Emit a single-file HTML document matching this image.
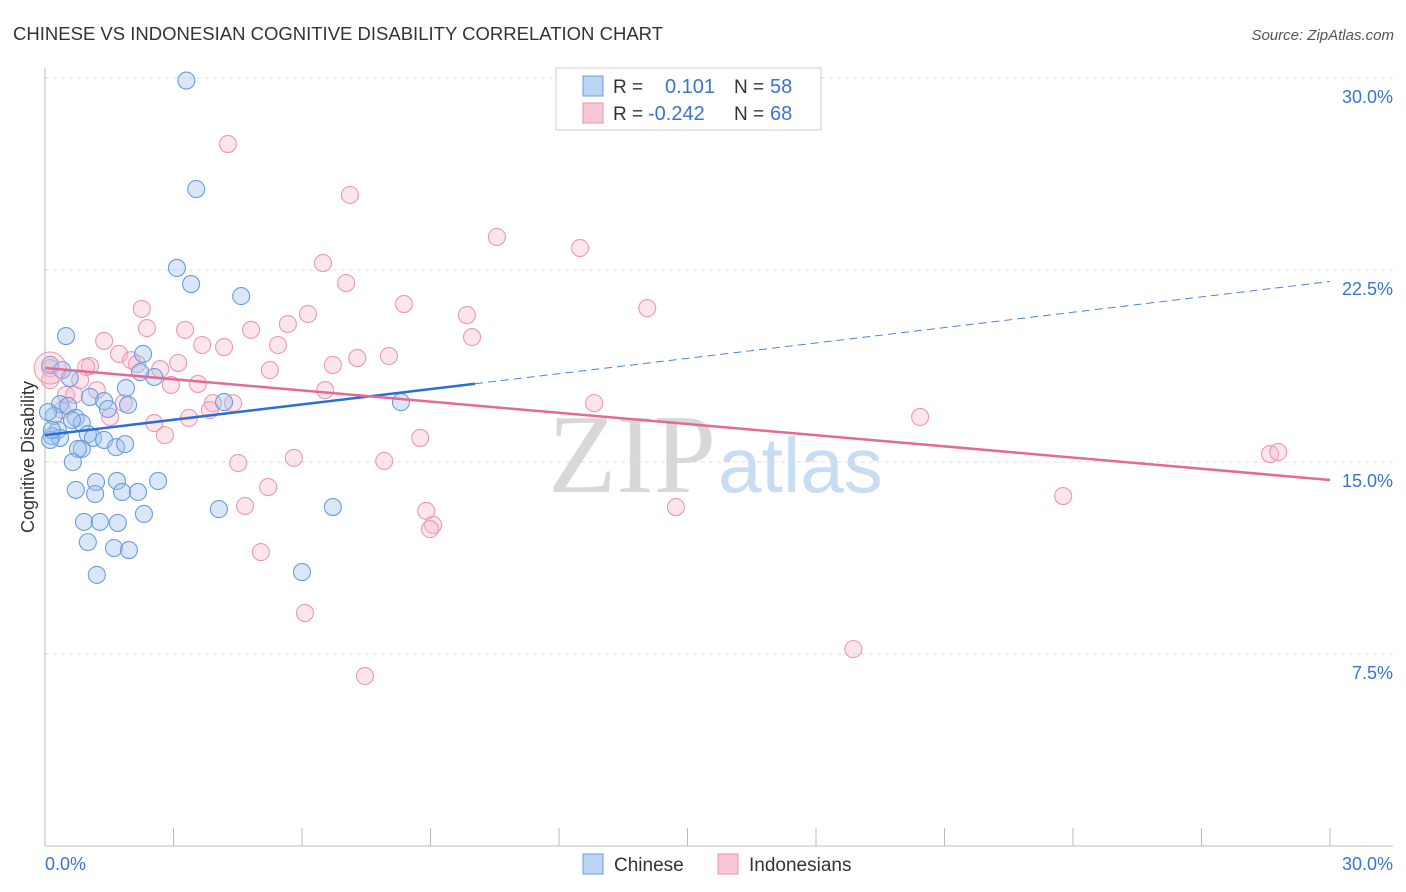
<!DOCTYPE html>
<html><head><meta charset="utf-8">
<style>
body{margin:0;background:#fff;font-family:"Liberation Sans",sans-serif;}
svg{display:block}
</style></head>
<body>
<svg id="chart" width="1406" height="892">
<text x="13" y="40" font-size="18.5" fill="#333" textLength="650">CHINESE VS INDONESIAN COGNITIVE DISABILITY CORRELATION CHART</text>
<text x="1394" y="40" font-size="15" fill="#555" font-style="italic" text-anchor="end">Source: ZipAtlas.com</text>
<text x="716" y="492" font-size="112" fill="#d8d8d8" text-anchor="end" font-family="Liberation Serif">ZIP</text>
<text x="718" y="492" font-size="78" fill="#c8dcf4">atlas</text>
<g id="grid"></g>
<g id="marks"></g>
<text transform="translate(34,457) rotate(-90)" font-size="18" fill="#333" text-anchor="middle">Cognitive Disability</text>
<text x="45" y="870" font-size="18" fill="#3a74d0">0.0%</text>
<text x="1393" y="870" font-size="18" fill="#3a74d0" text-anchor="end">30.0%</text>
<g>
<rect x="556" y="68" width="265" height="62" fill="#fff" stroke="#ccc"/>
<rect x="583" y="76" width="20" height="20" fill="#bcd4f4" stroke="#6a9ddc"/>
<rect x="583" y="103" width="20" height="20" fill="#f9c8d6" stroke="#e890ac"/>
<text x="613" y="93" font-size="19" fill="#333">R = </text><text x="665" y="93" font-size="20" fill="#3a74d0">0.101</text>
<text x="734" y="93" font-size="19" fill="#333">N = </text><text x="770" y="93" font-size="20" fill="#3a74d0">58</text>
<text x="613" y="120" font-size="19" fill="#333">R = </text><text x="648" y="120" font-size="20" fill="#3a74d0">-0.242</text>
<text x="734" y="120" font-size="19" fill="#333">N = </text><text x="770" y="120" font-size="20" fill="#3a74d0">68</text>
</g>
<g>
<rect x="583" y="854" width="20" height="20" fill="#bcd4f4" stroke="#6a9ddc"/>
<text x="614" y="871" font-size="19" fill="#333">Chinese</text>
<rect x="718" y="854" width="20" height="20" fill="#f9c8d6" stroke="#e890ac"/>
<text x="749" y="871" font-size="19" fill="#333">Indonesians</text>
</g>
</svg>
<script>
const yTicks=[7.5,15,22.5,30];
const yTickLabels=["7.5%","15.0%","22.5%","30.0%"];
const chineseX=[3.3,3.53,3.08,3.41,4.58,0.49,2.29,0.12,0.40,0.58,2.55,2.22,1.89,1.05,1.38,1.94,0.35,0.54,1.47,4.18,8.31,0.21,0.72,0.86,0.63,0.30,1.00,1.12,0.16,0.35,1.38,1.66,1.87,0.86,0.77,0.65,1.19,1.68,2.64,0.72,1.17,1.80,2.17,2.31,4.06,6.72,0.91,1.28,1.70,1.00,1.61,1.96,6.0,1.21,0.12,0.07,0.16];
const chineseY=[29.9,25.66,22.58,21.95,21.48,19.92,19.22,18.79,18.59,18.28,18.32,18.51,17.89,17.54,17.38,17.23,17.26,17.19,17.07,17.34,17.34,16.80,16.72,16.52,16.64,16.25,16.09,15.94,16.01,15.94,15.86,15.58,15.70,15.51,15.51,15.0,14.22,14.26,14.26,13.91,13.75,13.83,13.83,12.97,13.16,13.24,12.66,12.66,12.62,11.87,11.64,11.56,10.70,10.59,15.86,16.95,16.25];
const indoX=[4.27,7.12,10.55,12.49,6.49,7.03,8.38,9.85,14.06,6.14,2.26,2.38,3.27,5.67,4.81,1.38,3.67,4.18,5.44,9.97,1.73,1.05,2.01,2.69,3.11,6.72,7.29,8.03,5.25,0.96,0.82,2.15,2.94,3.57,1.21,6.54,0.49,1.84,3.92,4.39,3.85,12.82,1.52,3.36,2.55,2.80,8.76,20.43,4.51,5.81,7.92,5.21,28.60,28.79,4.67,8.90,9.06,8.99,14.73,23.77,5.04,6.07,18.87,7.47,0.12,0.12,0.68,0.40];
const indoY=[27.42,25.43,23.79,23.36,22.77,21.99,21.17,20.74,21.01,20.78,20.98,20.23,20.16,20.39,20.16,19.73,19.57,19.49,19.57,19.88,19.22,18.75,18.98,18.63,18.87,18.79,19.06,19.14,18.59,18.71,18.20,18.83,18.01,18.05,17.81,17.81,17.62,17.30,17.30,17.30,17.03,17.30,16.76,16.72,16.52,16.05,15.94,16.76,14.96,15.16,15.04,14.02,15.31,15.39,13.28,13.09,12.54,12.38,13.24,13.67,11.48,9.10,7.69,6.64,18.67,18.20,17.62,17.03];
const chineseTrend=[16.05,0.2];
const indoTrend=[18.67,-0.1457];
const chineseSolidEnd=10.04;

const NS="http://www.w3.org/2000/svg";
const X0=45,X1=1330,Y0=846,Y30=78;
const sx=v=>X0+(v/30)*(X1-X0);
const sy=v=>Y0-(v/30)*(Y0-Y30);
function mk(tag,attrs,parent){const e=document.createElementNS(NS,tag);for(const k in attrs)e.setAttribute(k,attrs[k]);parent.appendChild(e);return e;}
const grid=document.getElementById('grid');
const marks=document.getElementById('marks');
yTicks.forEach((t,i)=>{
  const l=mk('line',{x1:45,x2:1393,y1:sy(t),y2:sy(t),stroke:'#ddd','stroke-dasharray':'4,4'},grid);
  
  
  const tx=mk('text',{x:1393,y:sy(t)+25,'font-size':18,fill:'#3a74d0','text-anchor':'end'},grid);
  tx.textContent=yTickLabels[i];
  
  
});
const ax=mk('line',{x1:45,x2:45,y1:68,y2:846,stroke:'#bbb'},grid);


const bx=mk('line',{x1:45,x2:1393,y1:846,y2:846,stroke:'#bbb'},grid);


for(let i=0;i<=10;i++){
  const t=mk('line',{x1:sx(i*3),x2:sx(i*3),y1:828,y2:846,stroke:'#bbb'},grid);
  
  
}
function dots(xs,ys,fill,stroke,name){
  xs.forEach((x,i)=>{
    const c=mk('circle',{cx:sx(x),cy:sy(ys[i]),r:8.5,fill:fill,stroke:stroke,'stroke-width':1.1},marks);
    
    
  });
}
dots(indoX,indoY,'rgba(248,180,200,0.35)','#ea98b4','indonesian-point');
dots(chineseX,chineseY,'rgba(160,196,240,0.4)','#6a9ddc','chinese-point');
const big=mk('circle',{cx:sx(0.12),cy:sy(18.67),r:16,fill:'rgba(248,180,200,0.3)',stroke:'#ea98b4'},marks);


const ct=v=>chineseTrend[0]+chineseTrend[1]*v;
const it=v=>indoTrend[0]+indoTrend[1]*v;
const l1=mk('line',{x1:sx(0),y1:sy(ct(0)),x2:sx(chineseSolidEnd),y2:sy(ct(chineseSolidEnd)),stroke:'#2a6ed6','stroke-width':2.5},marks);


const l2=mk('line',{x1:sx(chineseSolidEnd),y1:sy(ct(chineseSolidEnd)),x2:sx(30),y2:sy(ct(30)),stroke:'#4a84d8','stroke-width':1,'stroke-dasharray':'8,5'},marks);


const l3=mk('line',{x1:sx(0),y1:sy(it(0)),x2:sx(30),y2:sy(it(30)),stroke:'#e46a96','stroke-width':2.5},marks);


</script>
</body></html>
